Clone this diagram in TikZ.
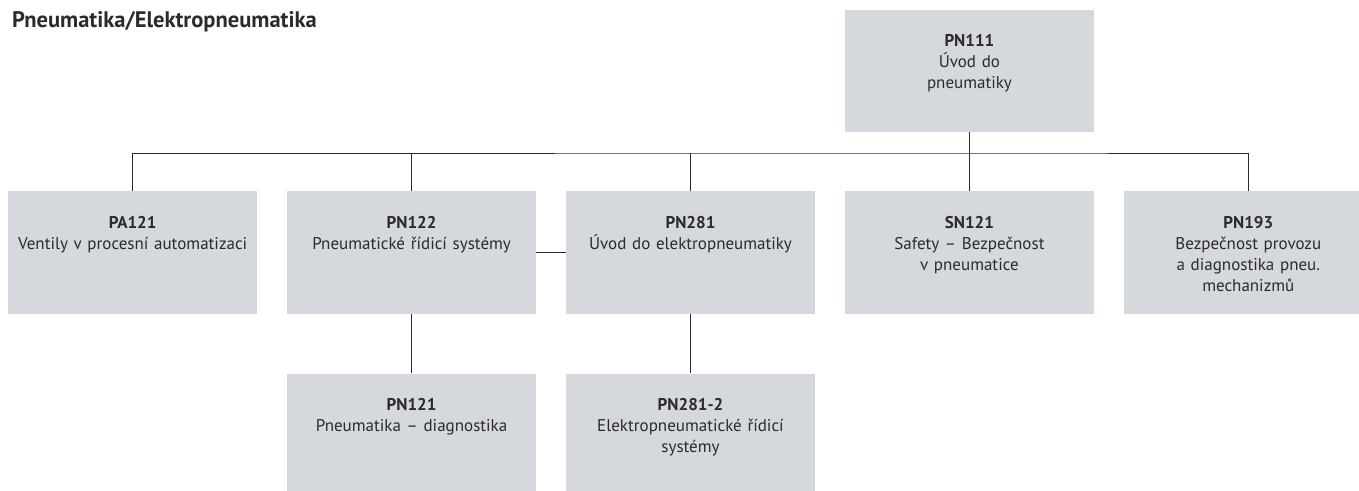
\documentclass[tikz,border=0pt]{standalone}
\usepackage{fontspec}
\setmainfont{PT Sans}
\usetikzlibrary{positioning}
\definecolor{boxgray}{HTML}{D5D8DD}
\definecolor{ink}{HTML}{2B2B2B}
\tikzset{
  box/.style={fill=boxgray,text=ink,align=center,text width=249pt,inner sep=0pt,
    text height=37pt,text depth=86pt,font=\fontsize{17pt}{21pt}\selectfont},
  lowbox/.style={box,text depth=80pt},
  link/.style={draw=ink,line width=1pt}
}

\begin{document}
\begin{tikzpicture}[node distance=29.5pt]
\useasboundingbox (0,0) rectangle (1359pt,-490pt);
\clip (0,0) rectangle (1359pt,-490pt);
\node[anchor=base west,inner sep=0pt,text=ink,font=\bfseries\fontsize{22.5pt}{26pt}\selectfont](title) at (12pt,-27pt){Pneumatika/Elektropneumatika};
% first row
\node[box,anchor=north west](pa121) at (8pt,-191pt){\textbf{PA121}\\Ventily v procesní automatizaci};
\node[box,right=of pa121](pn122){\textbf{PN122}\\Pneumatické řídicí systémy};
\node[box,right=of pn122](pn281){\textbf{PN281}\\Úvod do elektropneumatiky};
\node[box,right=of pn281](sn121){\textbf{SN121}\\Safety – Bezpečnost\\v pneumatice};
\node[box,right=of sn121](pn193){\textbf{PN193}\\Bezpečnost provozu\\a diagnostika pneu.\\mechanizmů};
% top and second row
\node[box,text depth=85pt,above=59pt of sn121](pn111){\textbf{PN111}\\Úvod do\\pneumatiky};
\node[lowbox,below=59pt of pn122](pn121){\textbf{PN121}\\Pneumatika – diagnostika};
\node[lowbox,below=59pt of pn281](pn2812){\textbf{PN281-2}\\Elektropneumatické řídicí\\systémy};
% lines
\draw[link](pn111.south)--++(0,-21pt)coordinate(bus);
\draw[link](pa121.north)|-(bus)-|(pn193.north);
\draw[link](pn122.north)--(pn122.north|-bus);\draw[link](pn281.north)--(pn281.north|-bus);
\draw[link](bus)--(sn121.north);
\draw[link](pn122)--(pn281);
\draw[link](pn122)--(pn121);\draw[link](pn281)--(pn2812);
\end{tikzpicture}
\end{document}
